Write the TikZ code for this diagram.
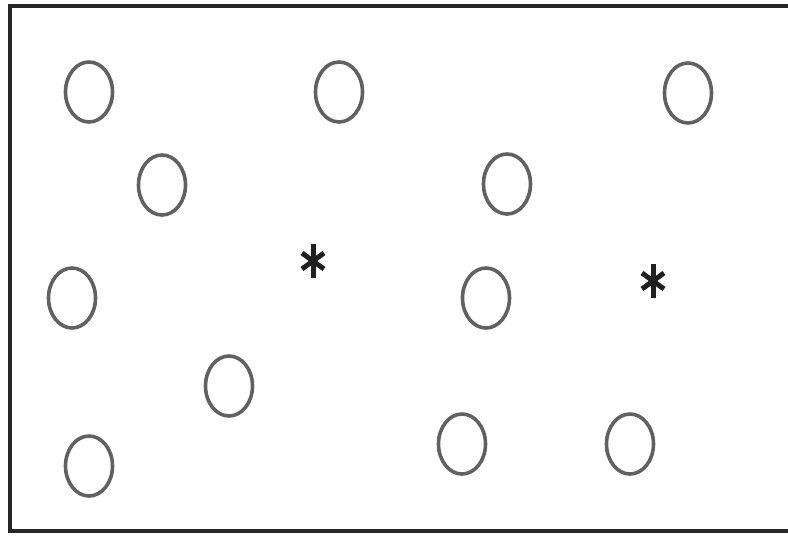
\documentclass[tikz,border=0pt]{standalone}
\usepackage{tikz}
\usetikzlibrary{positioning,shapes.geometric}

\begin{document}
\begin{tikzpicture}[x=1pt,y=-1pt,
		o/.style={ellipse,draw=black!62,line width=3.6pt,minimum width=47pt,minimum height=60pt,inner sep=0pt},
		ast/.style={rectangle,minimum width=30pt,minimum height=40pt,inner sep=0pt,
			path picture={
				\begin{scope}[shift={(path picture bounding box.center)},line width=5pt,black!88]
				\draw (0pt,17pt) -- (0pt,-17pt);
				\draw (-11pt,8pt) -- (11pt,-8pt);
				\draw (-11pt,-8pt) -- (11pt,8pt);
				\end{scope}}},
		f/.style={draw=black!85,line width=4.5pt}
		]
		
		\useasboundingbox (0,0) rectangle (788,536);
		\path [f] (10,6) rectangle (800,531);
		
		\node [o] (o1) at (89,92) {};
		\node [o] (o2) at (339,92) {};
		\node [o] (o3) at (688,93) {};
		\node [o] (o4) at (162,185) {};
		\node [o] (o5) at (507,184) {};
		\node [o] (o6) at (72,298) {};
		\node [o] (o7) at (486,298) {};
		\node [o] (o8) at (229,386) {};
		\node [o] (o9) at (89,466) {};
		\node [o] (o10) at (462,444) {};
		\node [o] (o11) at (630,444) {};
		
		\node [ast] (ast1) at (313,261) {};
		\node [ast] (ast2) at (653,281) {};
		
	\end{tikzpicture}
\end{document}
